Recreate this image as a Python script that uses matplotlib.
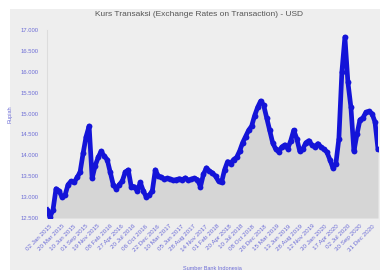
import matplotlib
matplotlib.use("Agg")
import matplotlib.pyplot as plt
from matplotlib.patches import Rectangle
import numpy as np

title = "Kurs Transaksi (Exchange Rates on Transaction) - USD"
y_label = "Rupiah"
source = "Sumber Bank Indonesia"

# exchange rate (IDR per USD) at evenly spaced trading-day positions
rates = [
    12700, 12520, 12700, 13200, 13150, 13000, 13050, 13300, 13380, 13350,
    13470, 13600, 14050, 14450, 14700, 13450, 13750, 13950, 14100, 13980,
    13900, 13600, 13300, 13200, 13300, 13380, 13600, 13650, 13250, 13250,
    13150, 13350, 13150, 13000, 13050, 13150, 13650, 13500, 13480, 13430,
    13450, 13430, 13400, 13420, 13440, 13420, 13460, 13400, 13430, 13450,
    13420, 13250, 13550, 13700, 13620, 13580, 13500, 13380, 13350, 13650,
    13850, 13800, 13900, 13950, 14100, 14300, 14450, 14600, 14700, 14950,
    15150, 15300, 15200, 14900, 14600, 14300, 14150, 14080, 14200, 14250,
    14160, 14350, 14600, 14400, 14100, 14150, 14300, 14350, 14250, 14200,
    14280, 14200, 14150, 14080, 13900, 13700, 13800, 14400, 16000, 16830,
    15750, 15150, 14100, 14500, 14850, 14900, 15030, 15050, 15000, 14800,
    14150,
]

tick_labels = [
    "02 Jan 2015", "20 Mar 2015", "10 Jun 2015", "01 Sep 2015", "19 Nov 2015",
    "08 Feb 2016", "27 Apr 2016", "20 Jul 2016", "06 Oct 2016", "22 Dec 2016",
    "10 Mar 2017", "05 Jun 2017", "28 Aug 2017", "14 Nov 2017", "01 Feb 2018",
    "20 Apr 2018", "10 Jul 2018", "08 Oct 2018", "26 Dec 2018", "15 Mar 2019",
    "13 Jun 2019", "28 Aug 2019", "12 Nov 2019", "30 Jan 2020", "17 Apr 2020",
    "02 Jul 2020", "30 Sep 2020", "31 Dec 2020",
]

y_ticks = [12500, 13000, 13500, 14000, 14500, 15000, 15500, 16000, 16500, 17000]

plt.rcParams['font.family'] = ['Liberation Sans', 'DejaVu Sans']

W, H = 380, 270
fig = plt.figure(figsize=(W / 100, H / 100), dpi=100, facecolor='white')
fig.patches.append(Rectangle((10 / W, 0), 1, 1 - 9 / H, transform=fig.transFigure,
                             facecolor='#eeeeee', edgecolor='none', zorder=-1))

ax = fig.add_axes([47 / W, 1 - 218 / H, (378 - 47) / W, (218 - 30) / H])
ax.set_facecolor('none')

x = np.arange(len(rates))
ax.fill_between(x, rates, 12500, color='#d6d6d6', linewidth=0, zorder=1)
ax.plot(x, rates, color='#1414d8', linewidth=3.4, marker='o', markersize=4.2,
        markeredgewidth=0, zorder=3, solid_joinstyle='round')

ax.set_xlim(x[0], x[-1])
ax.set_ylim(12500, 17000)
ax.set_yticks(y_ticks)
ax.set_yticklabels([f"{v:,}".replace(",", ".") for v in y_ticks])

tick_pos = np.linspace(1, 108, len(tick_labels))
ax.set_xticks(tick_pos)
ax.set_xticklabels(tick_labels, rotation=45, ha='right', va='top', rotation_mode='anchor')

lab_col = '#6c6cd6'
ax.tick_params(axis='y', length=0, labelsize=4.2, colors=lab_col, pad=6)
ax.tick_params(axis='x', length=0, labelsize=4.5, colors=lab_col, pad=4)

for s in ['top', 'right', 'bottom']:
    ax.spines[s].set_visible(False)
ax.spines['left'].set_color('#dcdcdc')
ax.spines['left'].set_linewidth(0.8)

ax.set_ylabel(y_label, fontsize=4.0, color=lab_col)
ax.yaxis.set_label_coords(-0.105, 0.55)

fig.text(199 / W, 1 - 15 / H, title, ha='center', va='center', fontsize=6.0, color='#555555')
fig.text(183 / W, 1 - 268 / H, source, ha='left', va='center', fontsize=4.0, color=lab_col)

fig.savefig('out.png', dpi=100, facecolor=fig.get_facecolor())
